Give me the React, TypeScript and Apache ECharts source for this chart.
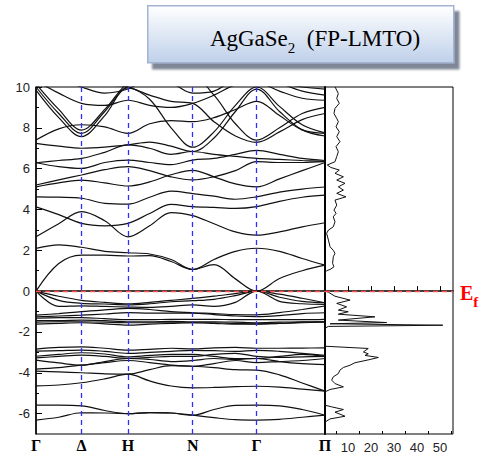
import React, { useEffect, useRef } from 'react';
import * as echarts from 'echarts';

// k-path (distance units along the path)
const kPositions = [0, 45.5, 92, 156.7, 220.7, 289];
const kLabels = ['Γ', 'Δ', 'H', 'N', 'Γ', 'Π'];
const kGrid = [0, 22.75, 45.5, 68.75, 92, 113.6, 135.1, 156.7, 178, 199.4, 220.7, 243.5, 266.2, 289];

const energyTicks = [-6, -4, -2, 0, 2, 4, 6, 8, 10];
const energyMinorTicks = [-5, -3, -1, 1, 3, 5, 7, 9];
const dosTicks = [10, 20, 30, 40, 50];
const dosMinorTicks = [5, 15, 25, 35, 45, 55];

// valence bands
const v1 = [-6.32, -6.18, -5.96, -5.97, -6.0, -5.95, -5.97, -6.08, -6.2, -6.3, -6.32, -6.28, -6.18, -6.08];
const v2 = [-5.59, -5.59, -5.62, -5.85, -6.0, -5.95, -5.97, -6.08, -5.8, -5.6, -5.59, -5.62, -5.8, -6.08];
const g8 = [-4.64, -4.6, -4.49, -4.3, -4.07, -4.4, -4.65, -4.74, -4.72, -4.68, -4.66, -4.7, -4.8, -4.9];
const g7 = [-3.92, -3.96, -4.0, -4.05, -4.07, -3.85, -3.65, -3.68, -3.75, -3.85, -3.87, -4.1, -4.5, -4.9];
const g6 = [-3.82, -3.75, -3.63, -3.5, -3.4, -3.5, -3.62, -3.68, -3.55, -3.4, -3.5, -3.45, -3.4, -3.3];
const g5 = [-3.38, -3.52, -3.63, -3.45, -3.3, -3.35, -3.45, -3.4, -3.3, -3.35, -3.3, -3.45, -3.55, -3.6];
const g4 = [-3.27, -3.2, -3.14, -3.2, -3.3, -3.25, -3.2, -3.2, -3.1, -3.05, -3.2, -3.25, -3.22, -3.2];
const g3 = [-3.19, -3.1, -3.02, -3.08, -3.22, -3.15, -3.1, -3.1, -3.2, -3.3, -3.3, -3.2, -3.1, -3.2];
const g2 = [-2.94, -2.92, -2.89, -2.95, -3.05, -3.0, -2.95, -2.9, -2.92, -2.95, -2.9, -2.95, -3.05, -3.15];
const g1 = [-2.84, -2.76, -2.73, -2.8, -2.89, -2.85, -2.8, -2.83, -2.78, -2.76, -2.8, -2.8, -2.79, -2.78];
const m6 = [-1.62, -1.58, -1.55, -1.6, -1.67, -1.62, -1.58, -1.55, -1.58, -1.62, -1.62, -1.58, -1.55, -1.52];
const m5 = [-1.52, -1.5, -1.5, -1.52, -1.55, -1.55, -1.55, -1.55, -1.55, -1.58, -1.6, -1.58, -1.52, -1.5];
const m4 = [-1.45, -1.45, -1.42, -1.45, -1.5, -1.5, -1.48, -1.5, -1.5, -1.52, -1.55, -1.52, -1.5, -1.5];
const m3 = [-1.33, -1.3, -1.3, -1.35, -1.4, -1.4, -1.38, -1.38, -1.38, -1.4, -1.4, -1.4, -1.4, -1.38];
const m2 = [-1.26, -1.22, -1.18, -1.12, -1.05, -1.08, -1.08, -1.08, -1.15, -1.22, -1.25, -1.2, -1.1, -1.06];
const m1 = [-1.18, -1.1, -1.0, -0.92, -0.85, -0.9, -1.0, -1.06, -1.1, -1.15, -1.16, -1.05, -0.9, -0.73];
const t3 = [0, -0.75, -0.72, -0.75, -0.78, -0.8, -0.75, -0.67, -0.75, -0.55, 0, -0.5, -0.62, -0.65];
const t2 = [0, -0.45, -0.6, -0.63, -0.67, -0.62, -0.52, -0.47, -0.4, -0.22, 0, -0.3, -0.5, -0.57];
const t1 = [0, -0.25, -0.45, -0.55, -0.62, -0.55, -0.45, -0.36, -0.25, -0.12, 0, -0.15, -0.35, -0.57];

// conduction bands
const c1 = [0, 1.35, 1.76, 1.76, 1.72, 1.74, 1.45, 1.06, 1.3, 0.6, 0, 0.62, 1.0, 1.27];
const c2 = [2.09, 2.27, 2.15, 1.95, 1.88, 1.82, 1.55, 1.06, 1.55, 1.95, 2.1, 1.95, 1.6, 1.27];
const c3 = [2.66, 3.3, 3.89, 3.45, 2.66, 3.2, 3.85, 3.7, 3.3, 2.9, 2.74, 2.9, 3.15, 3.35];
const c4 = [4.13, 3.75, 3.32, 3.2, 3.32, 3.8, 4.25, 4.14, 4.1, 4.05, 4.14, 4.4, 4.6, 4.7];
const c5 = [4.62, 4.6, 4.55, 4.3, 4.26, 4.6, 4.9, 4.78, 4.65, 4.5, 4.62, 4.85, 5.0, 5.1];
const c6 = [5.11, 5.3, 5.44, 5.3, 5.15, 5.35, 5.7, 5.92, 5.6, 5.25, 5.11, 5.5, 5.9, 6.3];
const c7 = [5.2, 5.45, 5.69, 5.95, 6.1, 5.9, 5.6, 5.45, 5.6, 5.9, 6.34, 6.3, 6.3, 6.34];
const c8 = [6.29, 6.1, 6.01, 6.3, 6.42, 6.3, 6.2, 6.42, 6.5, 6.7, 6.9, 6.7, 6.5, 6.4];
const c9 = [6.29, 6.4, 6.5, 6.8, 7.16, 7.0, 6.7, 6.84, 6.7, 6.6, 6.5, 6.45, 6.4, 6.36];
const c10 = [7.24, 7.1, 7.0, 7.05, 7.16, 7.3, 7.1, 6.84, 7.5, 8.8, 9.9, 8.8, 7.9, 7.6];
const c11 = [7.4, 7.95, 8.15, 8.05, 7.73, 8.2, 8.35, 8.3, 8.5, 8.9, 9.3, 8.6, 7.9, 7.73];
const c12 = [9.85, 8.5, 7.57, 8.6, 9.96, 9.6, 9.3, 9.2, 8.3, 7.6, 7.29, 7.8, 8.4, 8.7];
const c13 = [10.0, 8.7, 7.73, 8.8, 10.05, 10.2, 10.3, 10.5, 9.6, 8.2, 7.4, 8.0, 8.7, 9.0];
const c14 = [10.15, 8.9, 7.89, 8.9, 10.2, 10.5, 10.6, 10.8, 10.6, 10.4, 10.3, 10.2, 10.0, 9.9];
const c15 = [10.3, 9.7, 9.2, 9.1, 9.35, 9.1, 9.0, 9.2, 9.6, 10.1, 10.2, 9.8, 9.45, 9.35];
const c16 = [10.5, 10.3, 10.2, 10.1, 10.0, 9.4, 8.0, 7.05, 7.8, 9.1, 10.0, 9.05, 8.15, 7.75];
const c17 = [10.6, 10.4, 10.0, 9.7, 9.9, 10.4, 10.2, 9.7, 9.8, 10.4, 10.6, 10.2, 9.8, 9.6];

const bands = [v1, v2, g8, g7, g6, g5, g4, g3, g2, g1, m6, m5, m4, m3, m2, m1, t3, t2, t1,
  c1, c2, c3, c4, c5, c6, c7, c8, c9, c10, c11, c12, c13, c14, c15, c16, c17];

// density of states (energy in eV, DOS in states)
const dosEnergy = [10.0, 9.97, 9.68, 9.44, 9.2, 8.95, 8.7, 8.46, 8.3, 8.05, 7.81, 7.57, 7.32, 7.08, 6.83, 6.59, 6.34, 6.18, 6.06, 5.93, 5.77, 5.6, 5.44, 5.28, 5.11, 4.95, 4.79, 4.62, 4.46, 4.21, 3.97, 3.81, 3.64, 3.4, 3.15, 2.99, 2.83, 2.5, 2.17, 2.0, 1.85, 1.68, 1.36, 1.19, 1.06, 1.0, 0.93, 0.0, -0.05, -0.25, -0.44, -0.6, -0.77, -0.93, -1.01, -1.13, -1.26, -1.42, -1.54, -1.6, -1.67, -1.73, -1.81, -2.7, -2.81, -2.98, -3.07, -3.15, -3.25, -3.35, -3.51, -3.63, -3.74, -3.87, -4.04, -4.2, -4.36, -4.53, -4.69, -4.82, -4.93, -5.59, -5.67, -5.8, -5.93, -6.13, -6.26, -6.41, -7.0];
const dosValue = [4.4, 4.35, 5.8, 5.1, 6.2, 4.35, 3.9, 5.1, 5.8, 4.8, 6.2, 5.1, 6.5, 4.8, 5.8, 5.1, 4.35, 1.0, 2.5, 6.2, 4.35, 8.0, 5.1, 8.7, 5.8, 8.0, 5.1, 9.1, 4.35, 5.1, 3.9, 4.8, 3.6, 4.35, 3.6, 1.5, 0.7, 1.5, 2.2, 3.6, 4.35, 3.6, 3.3, 3.9, 2.2, 0.7, 0.1, 0, 1.4, 4.35, 10.9, 5.1, 9.4, 5.8, 10.1, 5.8, 21.7, 5.8, 26.8, 2.2, 51.2, 1.45, 0.1, 0, 18.8, 16.7, 18.8, 17.4, 23.2, 19.6, 13.0, 10.9, 8.0, 6.5, 5.8, 3.6, 2.9, 4.35, 8.0, 2.2, 0.1, 0, 2.9, 8.0, 4.35, 8.7, 2.2, 0.1, 0];

const SERIF = "'Liberation Serif', 'Times New Roman', serif";
const SANS = "'Liberation Sans', Arial, sans-serif";

export default function App() {
  const ref = useRef<HTMLDivElement>(null);
  useEffect(() => {
    if (!ref.current) return;
    const chart = echarts.init(ref.current, undefined, { renderer: 'svg' });
    const blueDash = { type: [5, 4], color: '#2d2dff', width: 1.3 };
    const redDash = { type: [5, 4], color: '#ff4d4d', width: 1.4 };
    const bandSeries = bands.map((b, i) => ({
      type: 'line',
      xAxisIndex: 0,
      yAxisIndex: 0,
      data: kGrid.map((k, j) => [k, b[j]]),
      smooth: 0.35,
      symbol: 'none',
      silent: true,
      clip: true,
      lineStyle: { color: '#111', width: 1.2 },
      z: 3,
      ...(i === 0
        ? {
            markLine: {
              silent: true,
              symbol: ['none', 'none'],
              label: { show: false },
              data: [
                ...kPositions.slice(1, 5).map((k) => ({ xAxis: k, lineStyle: blueDash })),
                { yAxis: 0, lineStyle: redDash },
              ],
            },
          }
        : {}),
    }));
    const option: any = {
      animation: false,
      grid: [
        { left: 36, top: 87, width: 289, height: 347, show: true, borderColor: '#000', borderWidth: 1 },
        { left: 325, top: 87, width: 128, height: 347, show: true, borderColor: '#000', borderWidth: 1 },
      ],
      xAxis: [
        {
          gridIndex: 0, type: 'value', min: 0, max: 289, position: 'bottom',
          axisLine: { show: true, lineStyle: { color: '#000', width: 1.5 } },
          axisTick: { show: false },
          splitLine: { show: false },
          axisLabel: {
            customValues: kPositions,
            formatter: (v: number) => kLabels[kPositions.indexOf(v)] ?? '',
            fontFamily: SERIF, fontWeight: 'bold', fontSize: 16, color: '#000', margin: 3,
          },
        },
        {
          gridIndex: 1, type: 'value', min: 0, max: 55.65, position: 'bottom',
          axisLine: { show: true, lineStyle: { color: '#000', width: 1.5 } },
          axisTick: { show: true, inside: true, length: 5, customValues: dosTicks, lineStyle: { color: '#000' } },
          splitLine: { show: false },
          axisLabel: { customValues: dosTicks, fontFamily: SANS, fontSize: 13, color: '#222', margin: 7 },
        },
        {
          gridIndex: 1, type: 'value', min: 0, max: 55.65, position: 'bottom',
          axisLine: { show: false },
          axisTick: { show: true, inside: true, length: 3, customValues: dosMinorTicks, lineStyle: { color: '#000' } },
          splitLine: { show: false },
          axisLabel: { show: false },
        },
      ],
      yAxis: [
        {
          gridIndex: 0, type: 'value', min: -7, max: 10, position: 'left',
          axisLine: { show: true, lineStyle: { color: '#000', width: 1.5 } },
          axisTick: { show: true, inside: true, length: 6, customValues: energyTicks, lineStyle: { color: '#000' } },
          splitLine: { show: false },
          axisLabel: { customValues: energyTicks, fontFamily: SANS, fontSize: 13, color: '#222', margin: 6 },
        },
        {
          gridIndex: 0, type: 'value', min: -7, max: 10, position: 'left',
          axisLine: { show: false },
          axisTick: { show: true, inside: true, length: 3, customValues: energyMinorTicks, lineStyle: { color: '#000' } },
          splitLine: { show: false },
          axisLabel: { show: false },
        },
        {
          gridIndex: 1, type: 'value', min: -7, max: 10, position: 'left',
          axisLine: { show: true, lineStyle: { color: '#000', width: 2 } },
          axisTick: { show: false },
          splitLine: { show: false },
          axisLabel: { show: false },
        },
      ],
      graphic: [
        {
          type: 'rect',
          left: 147,
          top: 5,
          shape: { width: 306, height: 57 },
          style: {
            fill: new echarts.graphic.LinearGradient(0, 0, 0, 1, [
              { offset: 0, color: '#ffffff' },
              { offset: 1, color: '#bfd0ea' },
            ]),
            stroke: '#a3b4d2',
            lineWidth: 1.5,
            shadowBlur: 2,
            shadowOffsetX: 5,
            shadowOffsetY: 6,
            shadowColor: 'rgba(85,95,115,0.75)',
          },
        },
        {
          type: 'text',
          x: 315,
          y: 36,
          style: {
            text: '{a|AgGaSe}{s|2}{a|  (FP-LMTO)}',
            align: 'center',
            verticalAlign: 'middle',
            rich: {
              a: { fontFamily: SERIF, fontSize: 23, fill: '#000', lineHeight: 28, verticalAlign: 'bottom' },
              s: { fontFamily: SERIF, fontSize: 15, fill: '#000', lineHeight: 28, verticalAlign: 'bottom', padding: [0, 0, -5, 0] },
            },
          },
        },
      ],
      series: [
        ...bandSeries,
        {
          type: 'line',
          xAxisIndex: 1,
          yAxisIndex: 2,
          data: dosEnergy.map((e, i) => [dosValue[i], e]),
          symbol: 'none',
          silent: true,
          clip: true,
          lineStyle: { color: '#111', width: 1 },
          z: 3,
          markLine: {
            silent: true,
            symbol: ['none', 'none'],
            data: [{ yAxis: 0, lineStyle: redDash }],
            label: {
              show: true,
              position: 'end',
              distance: 7,
              formatter: '{e|E}{f|f}',
              rich: {
                e: { fontFamily: SERIF, fontWeight: 'bold', fontSize: 20, color: '#ff0000', lineHeight: 24, verticalAlign: 'bottom' },
                f: { fontFamily: SERIF, fontWeight: 'bold', fontSize: 15, color: '#ff0000', lineHeight: 24, verticalAlign: 'bottom', padding: [0, 0, -6, 0] },
              },
            },
          },
        },
      ],
    };
    chart.setOption(option);
    return () => chart.dispose();
  }, []);
  return (
    <div
      ref={ref}
      style={{ position: 'fixed', left: 0, top: 0, width: 480, height: 456, background: '#fff' }}
    />
  );
}
